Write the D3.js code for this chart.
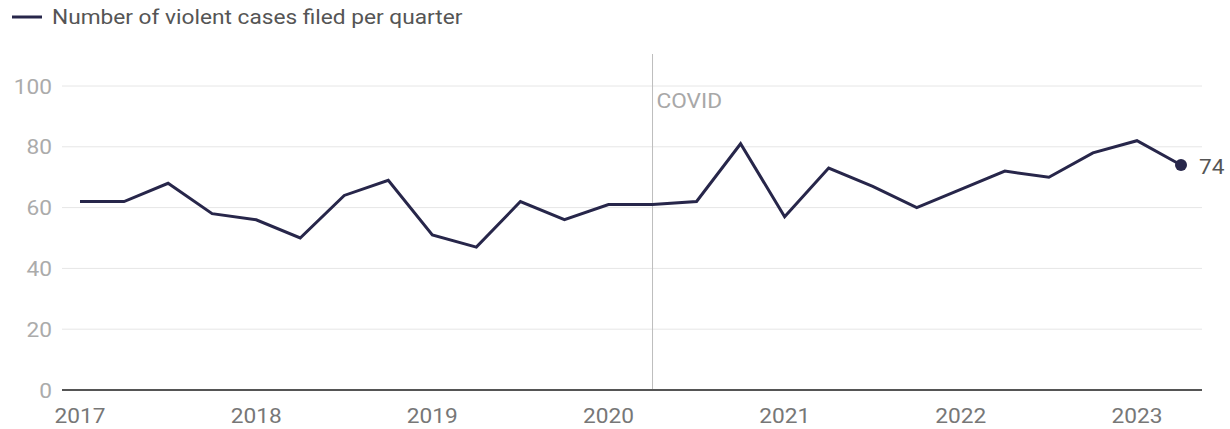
<!DOCTYPE html>
<html>
<head>
<meta charset="utf-8">
<script src="https://cdn.jsdelivr.net/npm/d3@7"></script>
<style>
  html, body { margin: 0; padding: 0; background: #fff; }
  svg { display: block; font-family: Roboto, "Noto Sans", sans-serif; }
</style>
</head>
<body>
<svg id="chart" width="1230" height="429"></svg>
<script>
// ---- data ----
const seriesName = "Number of violent cases filed per quarter";
const quarters = [
  "2017 Q1","2017 Q2","2017 Q3","2017 Q4",
  "2018 Q1","2018 Q2","2018 Q3","2018 Q4",
  "2019 Q1","2019 Q2","2019 Q3","2019 Q4",
  "2020 Q1","2020 Q2","2020 Q3","2020 Q4",
  "2021 Q1","2021 Q2","2021 Q3","2021 Q4",
  "2022 Q1","2022 Q2","2022 Q3","2022 Q4",
  "2023 Q1","2023 Q2"
];
const values = [62, 62, 68, 58, 56, 50, 64, 69, 51, 47, 62, 56, 61, 61, 62, 81, 57, 73, 67, 60, 66, 72, 70, 78, 82, 74];
const xTickYears = [2017, 2018, 2019, 2020, 2021, 2022, 2023];
const yTicks = [0, 20, 40, 60, 80, 100];
const annotationLabel = "COVID";
const annotationQuarter = "2020 Q2";

// ---- helpers ----
const qToNum = q => { const [y, qq] = q.split(" Q"); return +y + (+qq - 1) / 4; };
const data = quarters.map((q, i) => ({ t: qToNum(q), v: values[i] }));
const FS = 21, SX = 1.08;
// place text at (px,py) with a slight horizontal stretch
const place = (px, py) => `translate(${px},${py}) scale(${SX},1)`;

const svg = d3.select("#chart");
const x = d3.scaleLinear().domain([2017, 2023.25]).range([80, 1181]);
const y = d3.scaleLinear().domain([0, 100]).range([390, 86]);
const gridLeft = 62, gridRight = 1202;

// gridlines
svg.append("g").selectAll("line").data(yTicks.filter(d => d > 0)).join("line")
  .attr("x1", gridLeft).attr("x2", gridRight)
  .attr("y1", d => y(d)).attr("y2", d => y(d))
  .attr("stroke", "#e6e6e6").attr("stroke-width", 1);

// y labels
svg.append("g").selectAll("text").data(yTicks).join("text")
  .attr("transform", d => place(52, y(d)))
  .attr("dy", "0.36em")
  .attr("text-anchor", "end")
  .attr("font-size", FS).attr("fill", "#ababab")
  .text(d => d);

// annotation line
const ax = x(qToNum(annotationQuarter));
svg.append("line")
  .attr("x1", ax).attr("x2", ax).attr("y1", 54).attr("y2", y(0))
  .attr("stroke", "#bdbdbd").attr("stroke-width", 1);
svg.append("text")
  .attr("transform", place(ax + 4, 108))
  .attr("font-size", FS).attr("fill", "#a8a8a8")
  .text(annotationLabel);

// baseline
svg.append("line")
  .attr("x1", gridLeft).attr("x2", gridRight).attr("y1", y(0)).attr("y2", y(0))
  .attr("stroke", "#555").attr("stroke-width", 2);

// x labels
svg.append("g").selectAll("text").data(xTickYears).join("text")
  .attr("transform", d => place(x(d), 423))
  .attr("text-anchor", "middle")
  .attr("font-size", FS).attr("fill", "#777")
  .text(d => d);

// line
const lineColor = "#27264a";
svg.append("path").datum(data)
  .attr("fill", "none").attr("stroke", lineColor).attr("stroke-width", 3)
  .attr("stroke-linejoin", "miter")
  .attr("d", d3.line().x(d => x(d.t)).y(d => y(d.v)));

// last point
const last = data[data.length - 1];
svg.append("circle")
  .attr("cx", x(last.t)).attr("cy", y(last.v)).attr("r", 6)
  .attr("fill", lineColor);
svg.append("text")
  .attr("transform", place(x(last.t) + 18, y(last.v) + 9))
  .attr("font-size", FS).attr("fill", "#555")
  .text(last.v);

// legend
svg.append("line")
  .attr("x1", 12).attr("x2", 42).attr("y1", 17).attr("y2", 17)
  .attr("stroke", lineColor).attr("stroke-width", 3);
svg.append("text")
  .attr("transform", place(52, 24))
  .attr("font-size", FS).attr("fill", "#555")
  .text(seriesName);
</script>
</body>
</html>
